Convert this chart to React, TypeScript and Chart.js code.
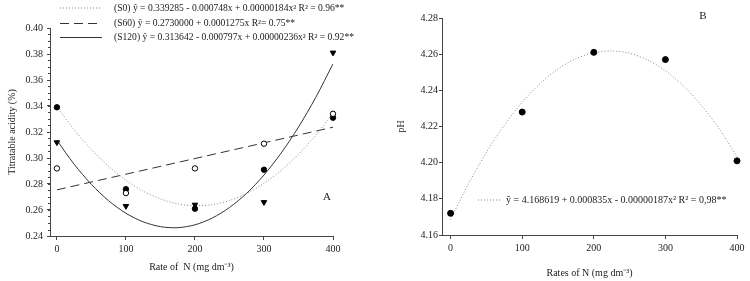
import React, { useEffect, useRef } from "react";
import { Chart, registerables } from "chart.js";

Chart.register(...registerables);

// ---- Data (panel A: titratable acidity) ----
const nRates = [0, 100, 200, 300, 400];
const s0Obs = [0.339, 0.276, 0.261, 0.291, 0.331];
const s60Obs = [0.292, 0.273, 0.292, 0.311, 0.334];
const s120Obs = [0.312, 0.263, 0.264, 0.266, 0.381];

const fitX = [0, 25, 50, 75, 100, 125, 150, 175, 200, 225, 250, 275, 300, 325, 350, 375, 400];
const s0Fit = [0.3393, 0.3217, 0.3065, 0.2935, 0.2829, 0.2745, 0.2685, 0.2647, 0.2633, 0.2641, 0.2673, 0.2727, 0.2805, 0.2905, 0.3029, 0.3175, 0.3345];
const s60FitX = [0, 400];
const s60Fit = [0.2755, 0.3237];
const s120Fit = [0.3136, 0.2952, 0.2797, 0.2671, 0.2575, 0.2509, 0.2472, 0.2464, 0.2486, 0.2538, 0.2619, 0.2729, 0.2869, 0.3039, 0.3238, 0.3466, 0.3724];

// ---- Data (panel B: pH) ----
const phObs = [4.172, 4.228, 4.261, 4.257, 4.201];
const phFit = [4.1686, 4.1883, 4.2057, 4.2207, 4.2334, 4.2438, 4.2518, 4.2575, 4.2608, 4.2618, 4.2605, 4.2568, 4.2508, 4.2425, 4.2318, 4.2188, 4.2034];

// ---- Ticks / labels ----
const rateTicks = [0, 100, 200, 300, 400];
const acidityTicks = [0.24, 0.26, 0.28, 0.3, 0.32, 0.34, 0.36, 0.38, 0.4];
const phTicks = [4.16, 4.18, 4.2, 4.22, 4.24, 4.26, 4.28];

const legendA = [
  "(S0) ŷ = 0.339285 - 0.000748x + 0.00000184x² R² = 0.96**",
  "(S60) ŷ = 0.2730000 + 0.0001275x R²= 0.75**",
  "(S120) ŷ = 0.313642 - 0.000797x + 0.00000236x² R² = 0.92**",
];
const legendB = "ŷ = 4.168619 + 0.000835x - 0.00000187x² R² = 0,98**";

const FONT = "'Liberation Serif', 'Times New Roman', serif";
const TXT = "#222";
const AX = "#444";

const pts = (xs: number[], ys: number[]) => xs.map((x, i) => ({ x, y: ys[i] }));

function tickFont() {
  return { family: FONT, size: 10 };
}

function makeA(canvas: HTMLCanvasElement) {
  const legendPlugin = {
    id: "legendA",
    afterDraw(chart: any) {
      const ctx = chart.ctx;
      const rows = [
        { y: 8, dash: [1, 2], color: "#888", text: legendA[0] },
        { y: 23.5, dash: [9, 5], color: "#333", text: legendA[1] },
        { y: 37.5, dash: [], color: "#333", text: legendA[2] },
      ];
      ctx.save();
      rows.forEach((r) => {
        ctx.beginPath();
        ctx.setLineDash(r.dash);
        ctx.strokeStyle = r.color;
        ctx.lineWidth = 1;
        ctx.moveTo(60, r.y);
        ctx.lineTo(102, r.y);
        ctx.stroke();
        ctx.setLineDash([]);
        ctx.fillStyle = TXT;
        ctx.font = `9.6px ${FONT}`;
        ctx.textBaseline = "middle";
        ctx.textAlign = "left";
        ctx.fillText(r.text, 114, r.y);
      });
      ctx.font = `11px ${FONT}`;
      ctx.textAlign = "center";
      ctx.fillText("A", 327, 197);
      // minor ticks on y axis
      const ys = chart.scales.y;
      const left = chart.chartArea.left;
      ctx.strokeStyle = AX;
      ctx.beginPath();
      for (let v = 0.245; v < 0.4; v += 0.005) {
        const py = Math.round(ys.getPixelForValue(v)) + 0.5;
        ctx.moveTo(left - 2, py);
        ctx.lineTo(left, py);
      }
      ctx.stroke();
      ctx.restore();
    },
  };

  return new Chart(canvas, {
    type: "scatter",
    data: {
      datasets: [
        {
          label: "S120 obs",
          data: pts(nRates, s120Obs),
          pointStyle: "triangle",
          pointRotation: 180,
          pointRadius: 3.2,
          backgroundColor: "#000",
          borderColor: "#000",
          borderWidth: 1,
          clip: false,
        },
        {
          label: "S60 obs",
          data: pts(nRates, s60Obs),
          pointStyle: "circle",
          pointRadius: 2.7,
          backgroundColor: "#fff",
          borderColor: "#000",
          borderWidth: 1,
          clip: false,
        },
        {
          label: "S0 obs",
          data: pts(nRates, s0Obs),
          pointStyle: "circle",
          pointRadius: 2.7,
          backgroundColor: "#000",
          borderColor: "#000",
          borderWidth: 1,
          clip: false,
        },
        {
          label: "S0 fit",
          data: pts(fitX, s0Fit),
          showLine: true,
          pointRadius: 0,
          borderColor: "#888",
          borderWidth: 1,
          borderDash: [1, 2],
          tension: 0.3,
        },
        {
          label: "S60 fit",
          data: pts(s60FitX, s60Fit),
          showLine: true,
          pointRadius: 0,
          borderColor: "#333",
          borderWidth: 1,
          borderDash: [9, 5],
        },
        {
          label: "S120 fit",
          data: pts(fitX, s120Fit),
          showLine: true,
          pointRadius: 0,
          borderColor: "#333",
          borderWidth: 1,
          tension: 0.3,
        },
      ],
    } as any,
    options: {
      responsive: false,
      animation: false,
      devicePixelRatio: 1,
      layout: { padding: { top: 28, right: 42, left: 0, bottom: 0 } },
      plugins: { legend: { display: false }, tooltip: { enabled: false } },
      scales: {
        x: {
          type: "linear",
          min: -10,
          max: 400,
          afterFit: (s: any) => {
            s.height = 45;
          },
          afterBuildTicks: (s: any) => {
            s.ticks = rateTicks.map((v) => ({ value: v }));
          },
          grid: { drawOnChartArea: false, drawTicks: true, tickLength: 4, color: AX },
          border: { display: true, color: AX },
          ticks: { font: tickFont(), color: TXT, padding: 3, maxRotation: 0 },
          title: {
            display: true,
            text: "Rate of  N (mg dm⁻³)",
            font: { family: FONT, size: 10 },
            color: TXT,
            padding: { top: 0, bottom: 8 },
          },
        },
        y: {
          type: "linear",
          min: 0.24,
          max: 0.4,
          afterFit: (s: any) => {
            s.width = 50;
          },
          afterBuildTicks: (s: any) => {
            s.ticks = acidityTicks.map((v) => ({ value: v }));
          },
          grid: { drawOnChartArea: false, drawTicks: true, tickLength: 3, color: AX },
          border: { display: true, color: AX },
          ticks: {
            font: tickFont(),
            color: TXT,
            padding: 4,
            callback: (v: any) => Number(v).toFixed(2),
          },
          title: {
            display: true,
            text: "Titratable acidity (%)",
            font: { family: FONT, size: 10 },
            color: TXT,
            padding: { top: 6, bottom: 0 },
          },
        },
      },
    } as any,
    plugins: [legendPlugin],
  });
}

function makeB(canvas: HTMLCanvasElement) {
  const legendPlugin = {
    id: "legendB",
    afterDraw(chart: any) {
      const ctx = chart.ctx;
      ctx.save();
      ctx.beginPath();
      ctx.setLineDash([1, 2]);
      ctx.strokeStyle = "#888";
      ctx.lineWidth = 1;
      ctx.moveTo(103, 200);
      ctx.lineTo(127, 200);
      ctx.stroke();
      ctx.setLineDash([]);
      ctx.fillStyle = TXT;
      ctx.font = `10px ${FONT}`;
      ctx.textBaseline = "middle";
      ctx.textAlign = "left";
      ctx.fillText(legendB, 131, 200);
      ctx.font = `11px ${FONT}`;
      ctx.textAlign = "center";
      ctx.fillText("B", 328, 16);
      ctx.restore();
    },
  };

  return new Chart(canvas, {
    type: "scatter",
    data: {
      datasets: [
        {
          label: "pH obs",
          data: pts(nRates, phObs),
          pointStyle: "circle",
          pointRadius: 3,
          backgroundColor: "#000",
          borderColor: "#000",
          borderWidth: 1,
          clip: false,
        },
        {
          label: "pH fit",
          data: pts(fitX, phFit),
          showLine: true,
          pointRadius: 0,
          borderColor: "#888",
          borderWidth: 1,
          borderDash: [1, 2],
          tension: 0.3,
        },
      ],
    } as any,
    options: {
      responsive: false,
      animation: false,
      devicePixelRatio: 1,
      layout: { padding: { top: 18, right: 13, left: 0, bottom: 0 } },
      plugins: { legend: { display: false }, tooltip: { enabled: false } },
      scales: {
        x: {
          type: "linear",
          min: -12,
          max: 400,
          afterFit: (s: any) => {
            s.height = 46;
          },
          afterBuildTicks: (s: any) => {
            s.ticks = rateTicks.map((v) => ({ value: v }));
          },
          grid: { drawOnChartArea: false, drawTicks: true, tickLength: 4, color: AX },
          border: { display: true, color: AX },
          ticks: { font: tickFont(), color: TXT, padding: 3, maxRotation: 0 },
          title: {
            display: true,
            text: "Rates of N (mg dm⁻³)",
            font: { family: FONT, size: 10 },
            color: TXT,
            padding: { top: 0, bottom: 2 },
          },
        },
        y: {
          type: "linear",
          min: 4.16,
          max: 4.28,
          afterFit: (s: any) => {
            s.width = 67;
          },
          afterBuildTicks: (s: any) => {
            s.ticks = phTicks.map((v) => ({ value: v }));
          },
          grid: { drawOnChartArea: false, drawTicks: true, tickLength: 3, color: AX },
          border: { display: true, color: AX },
          ticks: {
            font: tickFont(),
            color: TXT,
            padding: 1,
            callback: (v: any) => Number(v).toFixed(2),
          },
          title: {
            display: true,
            text: "pH",
            font: { family: FONT, size: 10 },
            color: TXT,
            padding: { top: 20, bottom: 0 },
          },
        },
      },
    } as any,
    plugins: [legendPlugin],
  });
}

export default function App() {
  const refA = useRef<HTMLCanvasElement | null>(null);
  const refB = useRef<HTMLCanvasElement | null>(null);

  useEffect(() => {
    const a = refA.current ? makeA(refA.current) : null;
    const b = refB.current ? makeB(refB.current) : null;
    return () => {
      a?.destroy();
      b?.destroy();
    };
  }, []);

  return (
    <div
      style={{
        position: "absolute",
        left: 0,
        top: 0,
        width: 750,
        height: 281,
        background: "#fff",
      }}
    >
      <canvas
        ref={refA}
        width={375}
        height={281}
        style={{ position: "absolute", left: 0, top: 0, width: 375, height: 281 }}
      />
      <canvas
        ref={refB}
        width={375}
        height={281}
        style={{ position: "absolute", left: 375, top: 0, width: 375, height: 281 }}
      />
    </div>
  );
}
